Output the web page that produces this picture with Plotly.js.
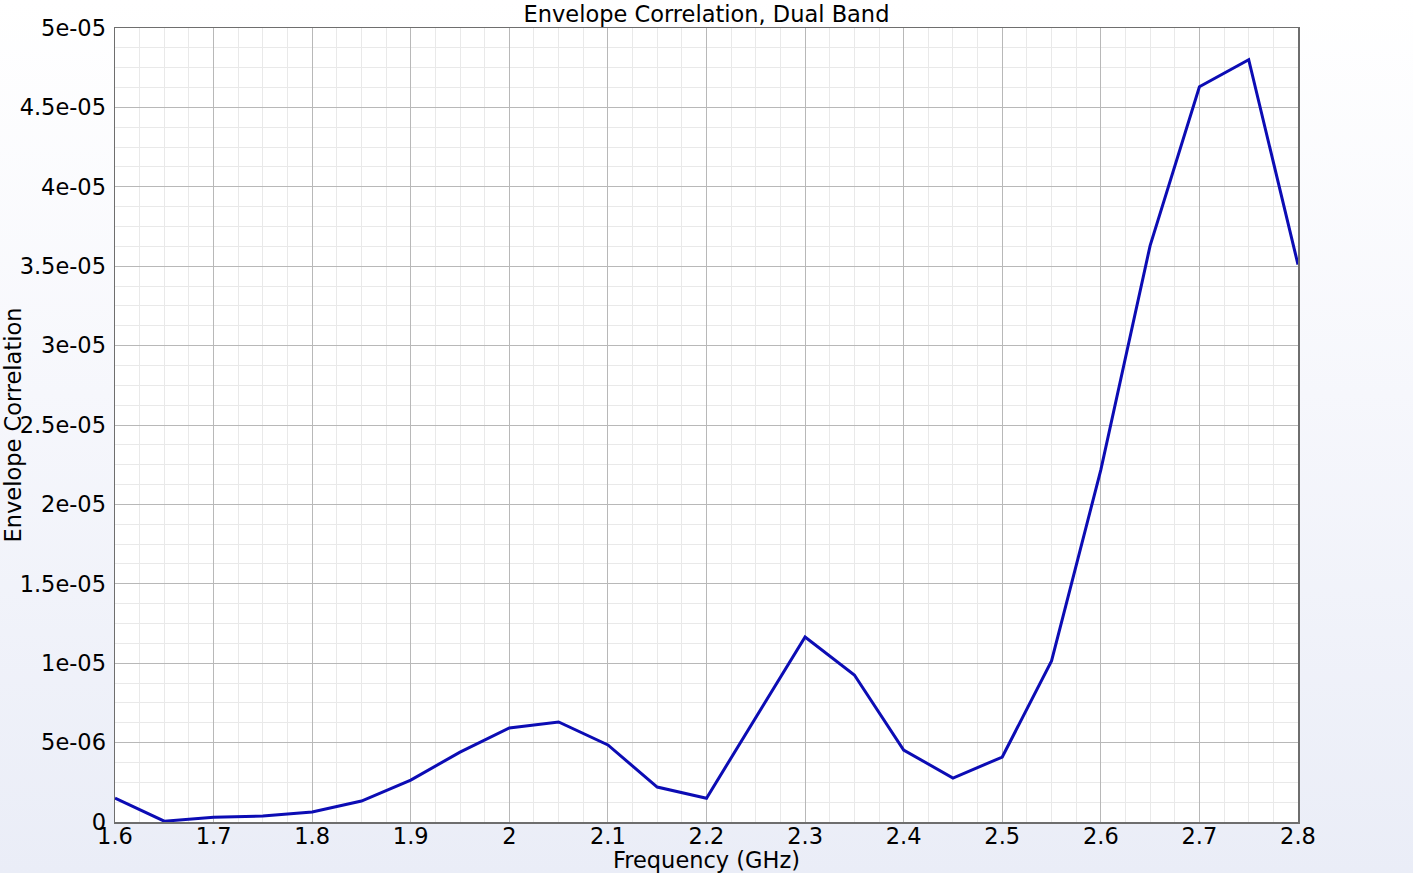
<!DOCTYPE html>
<html>
<head>
<meta charset="utf-8">
<script src="https://cdn.plot.ly/plotly-3.0.1.min.js"></script>
<style>
html,body{margin:0;padding:0;}
body{background:linear-gradient(to bottom,#ffffff 0%,#f6f7fc 45%,#eaedf7 100%);}
#chart{width:1413px;height:873px;}
</style>
</head>
<body>
<div id="chart"></div>
<script>
const frequencyGHz = [1.6,1.65,1.7,1.75,1.8,1.85,1.9,1.95,2.0,2.05,2.1,2.15,2.2,2.25,2.3,2.35,2.4,2.45,2.5,2.55,2.6,2.65,2.7,2.75,2.8];
const envelopeCorrelation = [1.5e-6,0.05e-6,0.3e-6,0.38e-6,0.63e-6,1.32e-6,2.64e-6,4.4e-6,5.92e-6,6.3e-6,4.85e-6,2.2e-6,1.5e-6,6.55e-6,11.65e-6,9.26e-6,4.53e-6,2.77e-6,4.09e-6,10.14e-6,22.17e-6,36.3e-6,46.3e-6,48.0e-6,35.1e-6];
const yTickValues = [0,5e-6,1e-5,1.5e-5,2e-5,2.5e-5,3e-5,3.5e-5,4e-5,4.5e-5,5e-5];
const yTickLabels = ['0','5e-06','1e-05','1.5e-05','2e-05','2.5e-05','3e-05','3.5e-05','4e-05','4.5e-05','5e-05'];
const xTickValues = [1.6,1.7,1.8,1.9,2.0,2.1,2.2,2.3,2.4,2.5,2.6,2.7,2.8];
const xTickLabels = ['1.6','1.7','1.8','1.9','2','2.1','2.2','2.3','2.4','2.5','2.6','2.7','2.8'];

const font = 'DejaVu Sans, sans-serif';
Plotly.newPlot('chart', [{
  x: frequencyGHz, y: envelopeCorrelation, type: 'scatter', mode: 'lines',
  line: {color: '#0c0cb4', width: 3}, hoverinfo: 'x+y'
}], {
  width: 1413, height: 873,
  paper_bgcolor: 'rgba(0,0,0,0)', plot_bgcolor: '#ffffff',
  margin: {l: 115, r: 115, t: 28, b: 51},
  showlegend: false,
  title: {text: 'Envelope Correlation, Dual Band', font: {family: font, size: 22.5, color: '#000'}, x: 0.5, xanchor: 'center', y: 0.984, yanchor: 'middle'},
  xaxis: {
    range: [1.6, 2.8], tickmode: 'array', tickvals: xTickValues, ticktext: xTickLabels,
    ticks: '', tickfont: {family: font, size: 22.5, color: '#000'}, ticklabelstandoff: -7,
    showline: true, linecolor: '#6e6e6e', linewidth: 1.5, mirror: true,
    showgrid: true, gridcolor: '#b8b8b8', gridwidth: 1, zeroline: false,
    minor: {dtick: 0.025, tick0: 1.6, showgrid: true, gridcolor: '#e9e9e9', gridwidth: 1},
    title: {text: 'Frequency (GHz)', font: {family: font, size: 22.5, color: '#000'}, standoff: 0}
  },
  yaxis: {
    range: [0, 5e-5], tickmode: 'array', tickvals: yTickValues, ticktext: yTickLabels,
    ticks: '', tickfont: {family: font, size: 22.5, color: '#000'}, ticklabelstandoff: 3,
    showline: true, linecolor: '#6e6e6e', linewidth: 1.5, mirror: true,
    showgrid: true, gridcolor: '#b8b8b8', gridwidth: 1, zeroline: false,
    minor: {dtick: 1.25e-6, tick0: 0, showgrid: true, gridcolor: '#e9e9e9', gridwidth: 1},
    title: {text: 'Envelope Correlation', font: {family: font, size: 22.5, color: '#000'}, standoff: 0}
  }
}, {displayModeBar: false, staticPlot: true});
</script>
</body>
</html>
